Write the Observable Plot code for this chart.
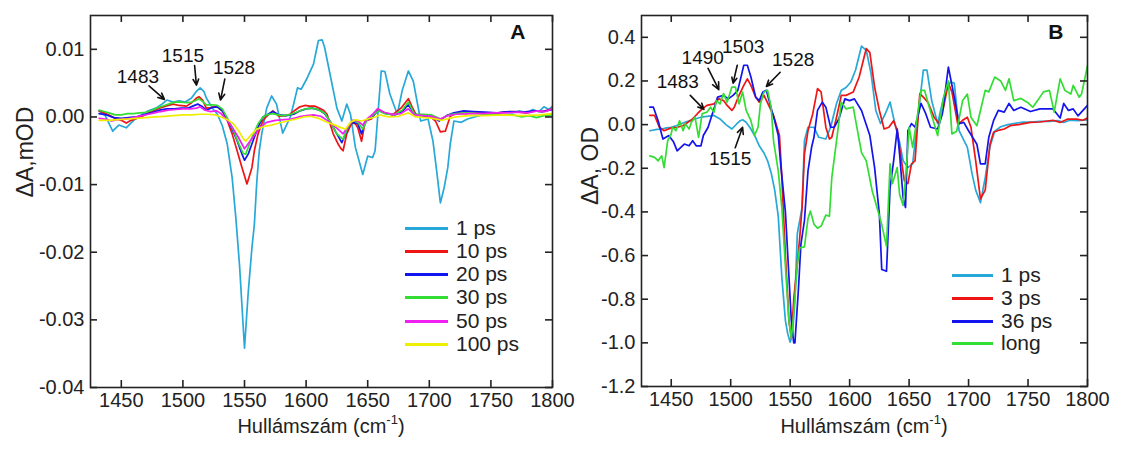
<!DOCTYPE html>
<html><head><meta charset="utf-8">
<script src="https://cdn.jsdelivr.net/npm/d3@7"></script>
<script src="https://cdn.jsdelivr.net/npm/@observablehq/plot@0.6"></script>
<style>
body{margin:0;background:#fff;}
#wrap{position:relative;width:1132px;height:449px;font-family:"Liberation Sans",Arial,sans-serif;color:#222;overflow:hidden;}
.svgbox{position:absolute;top:0;}
.ylab{position:absolute;white-space:nowrap;font-size:23px;transform:translate(-50%,-50%) rotate(-90deg);}
.xlab{position:absolute;white-space:nowrap;font-size:20px;line-height:22px;transform:translate(-50%,0);}
.xlab sup{font-size:13px;vertical-align:9px;line-height:0;}
.leg{position:absolute;font-size:21px;line-height:24px;height:24px;white-space:nowrap;}
.leg span.sw{position:absolute;top:11px;height:2.5px;}
.leg span.tx{position:absolute;top:0;}
</style></head><body><div id="wrap"></div>
<script>
// ---------- tick labels ----------
const xTicks = [1450, 1500, 1550, 1600, 1650, 1700, 1750, 1800];
const yTicksA = [0.01, 0, -0.01, -0.02, -0.03, -0.04];
const yTicksB = [0.4, 0.2, 0, -0.2, -0.4, -0.6, -0.8, -1.0, -1.2];

// ---------- panel A series: [wavenumber, dA] ----------
const namesA = ["1 ps", "10 ps", "20 ps", "30 ps", "50 ps", "100 ps"];
const colorsA = ["#27a8d8", "#ee1515", "#1414ee", "#33dd33", "#f020f0", "#eeee00"];
const a1ps = [[1432,0.0009],[1437,0.0002],[1443,-0.0021],[1448,-0.0012],[1454,-0.0016],[1460,-0.0005],[1467,0.0004],[1472,0.0009],[1478,0.0013],[1483,0.0019],[1487,0.0025],[1492,0.0022],[1497,0.0024],[1502,0.0022],[1507,0.0028],[1511,0.0038],[1514,0.0043],[1517,0.0038],[1519,0.0028],[1524,0.0013],[1528,0.0004],[1532,-0.0013],[1536,-0.004],[1540,-0.009],[1543,-0.015],[1546,-0.022],[1550,-0.0342],[1553,-0.026],[1556,-0.0194],[1558,-0.0159],[1560,-0.0095],[1562,-0.005],[1564,-0.0025],[1568,0.0013],[1572,0.0031],[1576,0.0019],[1581,-0.0024],[1587,-0.0001],[1590,0.002],[1593,0.0043],[1596,0.0041],[1601,0.0058],[1606,0.0078],[1610,0.0113],[1613,0.0114],[1615,0.0103],[1620,0.0058],[1625,0.0013],[1629,-0.0006],[1633,0.0019],[1636,0.0004],[1640,-0.0045],[1646,-0.0085],[1650,-0.0058],[1654,-0.006],[1656,-0.005],[1661,0.0068],[1664,0.0067],[1668,0.0034],[1674,0.0004],[1678,0.0039],[1683,0.0068],[1687,0.0053],[1693,-0.0006],[1699,-0.0003],[1703,-0.0036],[1706,-0.008],[1709,-0.0127],[1712,-0.0105],[1715,-0.0075],[1717,-0.004],[1720,-0.0006],[1726,-0.0008],[1731,-0.0003],[1739,0.0001],[1745,0.0004],[1752,0.0005],[1760,0.0007],[1767,0.0006],[1773,0.0009],[1779,0.0006],[1784,0.0011],[1789,0.0008],[1793,0.0015],[1797,0.0011],[1800,0.0016]];
const a10ps = [[1432,0.0009],[1436,0.0006],[1440,0.0003],[1445,-0.0002],[1450,-0.0005],[1454,-0.0009],[1458,-0.0005],[1463,-0.0002],[1467,0.0001],[1472,0.0006],[1476,0.0009],[1481,0.0013],[1486,0.0016],[1492,0.0019],[1497,0.0017],[1503,0.0016],[1507,0.0021],[1511,0.0028],[1513,0.003],[1516,0.0025],[1519,0.0013],[1523,0.0014],[1527,0.0016],[1532,0.0009],[1536,-0.0005],[1540,-0.0025],[1544,-0.005],[1548,-0.0075],[1552,-0.0099],[1556,-0.0075],[1558,-0.005],[1561,-0.0025],[1565,-0.0005],[1568,0.0001],[1573,0.0009],[1578,0.0001],[1583,0.0002],[1587,0.0004],[1591,0.001],[1595,0.0015],[1599,0.0017],[1603,0.0016],[1607,0.0016],[1611,0.0013],[1614,0.001],[1617,0.0004],[1622,-0.0025],[1626,-0.004],[1628,-0.0046],[1630,-0.005],[1633,-0.0025],[1637,-0.0009],[1640,-0.001],[1642,-0.0016],[1645,-0.0036],[1648,-0.0006],[1653,-0.0003],[1658,0.0012],[1664,0.0006],[1670,0.0003],[1677,0.0013],[1683,0.0027],[1686,0.0015],[1689,0.0004],[1696,0.0001],[1701,0.0],[1705,-0.0006],[1709,-0.0022],[1713,-0.0021],[1717,0.0001],[1722,0.0006],[1730,0.0005],[1740,0.0006],[1750,0.0005],[1760,0.0007],[1770,0.0008],[1778,0.0006],[1785,0.0009],[1792,0.0008],[1800,0.0012]];
const a20ps = [[1432,0.0005],[1438,0.0003],[1444,-0.0001],[1450,-0.0002],[1456,-0.0001],[1462,0.0],[1468,0.0003],[1474,0.0006],[1481,0.001],[1487,0.0012],[1493,0.0012],[1499,0.0013],[1504,0.0013],[1508,0.0016],[1512,0.0019],[1516,0.0015],[1519,0.001],[1524,0.0014],[1528,0.0015],[1532,0.0009],[1536,-0.0003],[1540,-0.0018],[1544,-0.0035],[1548,-0.0055],[1550,-0.0064],[1553,-0.0055],[1556,-0.004],[1561,-0.0015],[1565,0.0],[1568,0.0003],[1573,0.0008],[1578,0.0003],[1584,0.0002],[1590,0.0004],[1595,0.0009],[1600,0.0012],[1605,0.0013],[1611,0.001],[1615,0.0005],[1620,-0.0008],[1624,-0.0022],[1629,-0.0038],[1632,-0.0025],[1635,-0.0012],[1638,-0.0008],[1642,-0.001],[1645,-0.0025],[1648,-0.0006],[1654,0.0001],[1659,0.001],[1665,0.0005],[1672,0.0003],[1678,0.0008],[1683,0.0018],[1688,0.0004],[1695,0.0002],[1702,0.0001],[1708,-0.0006],[1714,0.0002],[1720,0.0006],[1728,0.0009],[1736,0.0008],[1745,0.0007],[1755,0.0006],[1765,0.0008],[1775,0.0007],[1785,0.0009],[1792,0.0008],[1800,0.0011]];
const a30ps = [[1432,0.001],[1436,0.0008],[1440,0.0006],[1445,0.0003],[1450,0.0003],[1455,0.0005],[1460,0.0005],[1465,0.0006],[1470,0.0007],[1475,0.001],[1480,0.0014],[1485,0.0017],[1490,0.002],[1494,0.0022],[1498,0.0022],[1503,0.0021],[1507,0.0022],[1510,0.0024],[1513,0.0027],[1516,0.0023],[1519,0.0018],[1524,0.0018],[1528,0.0017],[1532,0.0012],[1537,-0.0005],[1541,-0.002],[1545,-0.0038],[1549,-0.0054],[1551,-0.0055],[1555,-0.0035],[1561,-0.001],[1565,0.0],[1568,0.0003],[1573,0.0005],[1580,0.0002],[1586,0.0003],[1592,0.0007],[1598,0.0011],[1603,0.0013],[1608,0.0012],[1615,0.0006],[1620,-0.0008],[1625,-0.0025],[1630,-0.0033],[1634,-0.0015],[1638,-0.0005],[1642,-0.0008],[1646,-0.0018],[1650,-0.0003],[1655,0.0004],[1659,0.0009],[1665,0.0004],[1672,0.0004],[1678,0.001],[1683,0.0022],[1688,0.0004],[1695,0.0004],[1702,0.0003],[1709,-0.0003],[1716,0.0003],[1722,0.0005],[1730,0.0006],[1740,0.0005],[1750,0.0004],[1760,0.0003],[1768,0.0003],[1775,0.0],[1781,0.0002],[1787,-0.0001],[1793,0.0002],[1800,0.0003]];
const a50ps = [[1432,-0.0002],[1437,-0.0003],[1442,-0.0006],[1447,-0.0004],[1452,-0.0003],[1457,-0.0002],[1462,0.0],[1467,0.0002],[1472,0.0004],[1477,0.0006],[1482,0.0008],[1488,0.001],[1494,0.0011],[1500,0.0012],[1506,0.0012],[1511,0.0013],[1514,0.0015],[1518,0.001],[1522,0.0008],[1527,0.0009],[1531,0.0005],[1536,-0.0005],[1540,-0.0015],[1545,-0.003],[1550,-0.0047],[1554,-0.0037],[1558,-0.0027],[1563,-0.0015],[1568,-0.0008],[1575,-0.0005],[1582,-0.0004],[1588,-0.0003],[1594,0.0],[1600,0.0002],[1606,0.0003],[1612,0.0001],[1617,-0.0005],[1622,-0.0012],[1627,-0.002],[1630,-0.0025],[1634,-0.0014],[1638,-0.0005],[1642,-0.0006],[1646,-0.0012],[1650,-0.0002],[1654,0.0004],[1658,0.0012],[1663,0.0007],[1670,0.0004],[1677,0.0005],[1683,0.0012],[1688,0.0003],[1695,0.0002],[1702,0.0001],[1709,-0.0003],[1715,0.0002],[1722,0.0004],[1732,0.0005],[1742,0.0005],[1752,0.0006],[1762,0.0006],[1772,0.0007],[1780,0.0006],[1788,0.0009],[1794,0.0008],[1800,0.0012]];
const a100ps = [[1432,-0.0005],[1440,-0.0005],[1447,-0.0004],[1455,-0.0003],[1462,-0.0002],[1470,-0.0001],[1478,0.0],[1485,0.0001],[1492,0.0002],[1500,0.0003],[1507,0.0003],[1514,0.0004],[1520,0.0004],[1526,0.0003],[1531,0.0],[1536,-0.0004],[1541,-0.001],[1545,-0.002],[1549,-0.0032],[1551,-0.0036],[1555,-0.0027],[1560,-0.0018],[1566,-0.0014],[1572,-0.0012],[1578,-0.0009],[1585,-0.0006],[1592,-0.0003],[1598,0.0],[1604,0.0001],[1610,-0.0002],[1616,-0.0007],[1622,-0.0011],[1627,-0.0015],[1632,-0.0018],[1636,-0.0008],[1640,-0.0004],[1645,-0.0006],[1650,-0.0003],[1656,0.0],[1660,0.0003],[1667,0.0],[1675,0.0001],[1683,0.0006],[1689,0.0],[1696,-0.0001],[1703,-0.0002],[1710,-0.0005],[1716,-0.0002],[1722,0.0],[1732,0.0002],[1745,0.0002],[1760,0.0003],[1775,0.0002],[1790,0.0003],[1800,0.0005]];

// ---------- panel B series ----------
const namesB = ["1 ps", "3 ps", "36 ps", "long"];
const colorsB = ["#27a8d8", "#ee1515", "#1414ee", "#33dd33"];
const b1ps = [[1432,-0.028],[1438,-0.022],[1442,-0.02],[1446,-0.015],[1450,-0.012],[1454,-0.005],[1458,0.003],[1462,0.012],[1466,0.018],[1470,0.026],[1475,0.034],[1480,0.038],[1486,0.042],[1491,0.026],[1496,0.0],[1501,-0.02],[1505,0.003],[1508,0.018],[1510,0.022],[1513,0.011],[1517,-0.02],[1521,-0.06],[1524,-0.097],[1528,-0.13],[1531,-0.166],[1534,-0.22],[1537,-0.3],[1540,-0.42],[1543,-0.7],[1546,-0.898],[1548,-0.96],[1550,-0.997],[1552,-0.96],[1554,-0.8],[1556,-0.5],[1558,-0.44],[1560,-0.38],[1562,-0.074],[1565,-0.012],[1570,-0.012],[1574,-0.058],[1580,-0.066],[1584,-0.012],[1589,0.097],[1593,0.157],[1597,0.17],[1601,0.195],[1605,0.25],[1610,0.36],[1614,0.34],[1618,0.235],[1622,0.065],[1626,0.005],[1630,0.05],[1634,0.103],[1638,0.005],[1642,-0.08],[1645,-0.166],[1649,-0.197],[1653,-0.18],[1657,0.018],[1662,0.25],[1665,0.25],[1669,0.11],[1674,0.005],[1678,0.1],[1682,0.18],[1685,0.195],[1688,0.19],[1692,-0.028],[1699,-0.104],[1703,-0.227],[1706,-0.3],[1710,-0.358],[1714,-0.243],[1718,-0.1],[1722,-0.03],[1727,-0.01],[1733,0.0],[1738,0.005],[1745,0.011],[1752,0.012],[1760,0.015],[1768,0.015],[1775,0.018],[1780,0.01],[1785,0.02],[1792,0.018],[1800,0.022]];
const b3ps = [[1432,0.042],[1436,0.042],[1440,-0.012],[1444,-0.028],[1450,-0.015],[1455,-0.012],[1460,-0.005],[1464,0.011],[1468,0.026],[1472,0.05],[1476,0.072],[1480,0.088],[1486,0.095],[1490,0.118],[1494,0.11],[1497,0.088],[1501,0.065],[1503,0.08],[1507,0.134],[1511,0.18],[1514,0.21],[1517,0.18],[1521,0.126],[1524,0.103],[1528,0.134],[1532,0.088],[1536,0.042],[1541,-0.05],[1543,-0.243],[1546,-0.6],[1549,-0.9],[1551,-0.98],[1553,-0.8],[1556,-0.64],[1558,-0.52],[1560,-0.38],[1562,-0.135],[1565,-0.028],[1569,0.05],[1573,0.165],[1576,0.15],[1580,-0.012],[1583,-0.066],[1585,-0.058],[1589,0.034],[1593,0.134],[1597,0.134],[1603,0.149],[1608,0.218],[1614,0.349],[1617,0.33],[1621,0.172],[1625,0.065],[1629,-0.02],[1633,-0.012],[1637,0.018],[1640,-0.028],[1642,-0.104],[1646,-0.258],[1649,-0.27],[1652,-0.18],[1655,-0.166],[1659,0.142],[1663,0.12],[1666,0.1],[1671,0.034],[1675,0.005],[1679,0.08],[1683,0.19],[1686,0.15],[1691,0.0],[1695,0.02],[1699,0.034],[1702,-0.012],[1706,-0.166],[1710,-0.34],[1714,-0.3],[1718,-0.09],[1721,-0.035],[1726,-0.025],[1730,-0.02],[1735,-0.005],[1742,0.0],[1752,0.01],[1760,0.012],[1771,0.02],[1777,0.01],[1783,0.025],[1791,0.025],[1796,0.02],[1800,0.03]];
const b36ps = [[1432,0.08],[1435,0.08],[1439,0.018],[1443,-0.066],[1448,-0.05],[1452,-0.08],[1455,-0.12],[1461,-0.089],[1465,-0.097],[1468,-0.074],[1471,-0.097],[1475,-0.097],[1477,-0.05],[1481,-0.012],[1485,0.057],[1489,0.126],[1494,0.134],[1498,0.118],[1502,0.134],[1506,0.157],[1511,0.272],[1514,0.272],[1517,0.218],[1521,0.126],[1524,0.11],[1527,0.149],[1530,0.157],[1533,0.095],[1537,0.018],[1540,-0.05],[1542,-0.18],[1546,-0.4],[1549,-0.7],[1551,-0.9],[1553,-1.0],[1554,-1.0],[1557,-0.75],[1559,-0.55],[1562,-0.44],[1565,-0.212],[1568,-0.104],[1570,-0.058],[1573,0.065],[1577,0.103],[1580,0.08],[1584,-0.012],[1587,-0.012],[1591,0.027],[1596,0.118],[1600,0.11],[1604,0.118],[1610,0.065],[1617,-0.05],[1621,-0.197],[1625,-0.41],[1627,-0.664],[1631,-0.672],[1634,-0.289],[1637,-0.166],[1640,-0.02],[1642,-0.135],[1645,-0.335],[1647,-0.38],[1649,-0.028],[1652,0.005],[1655,-0.012],[1660,0.097],[1664,0.05],[1668,-0.012],[1674,-0.02],[1678,0.05],[1683,0.264],[1688,0.126],[1692,0.004],[1696,0.01],[1700,-0.028],[1707,-0.09],[1710,-0.18],[1714,-0.18],[1717,-0.058],[1721,0.018],[1725,0.065],[1730,0.057],[1734,0.097],[1738,0.065],[1744,0.08],[1752,0.06],[1760,0.072],[1771,0.072],[1777,0.03],[1780,0.097],[1784,0.065],[1788,0.072],[1792,0.04],[1800,0.088]];
const bLong = [[1432,-0.143],[1436,-0.15],[1439,-0.166],[1442,-0.143],[1444,-0.197],[1447,-0.074],[1450,-0.043],[1451,-0.012],[1454,-0.028],[1457,0.018],[1460,-0.028],[1462,0.003],[1465,-0.02],[1467,0.011],[1470,0.034],[1473,-0.058],[1476,0.05],[1480,0.057],[1483,0.08],[1486,0.057],[1488,0.11],[1491,0.095],[1494,0.142],[1497,0.103],[1501,0.172],[1504,0.172],[1507,0.095],[1510,0.149],[1513,0.065],[1517,0.018],[1520,-0.05],[1523,-0.012],[1525,0.095],[1528,0.149],[1531,0.157],[1534,0.08],[1536,-0.074],[1540,-0.212],[1543,-0.38],[1546,-0.65],[1549,-0.9],[1551,-0.98],[1553,-0.868],[1556,-0.64],[1558,-0.565],[1562,-0.56],[1565,-0.43],[1567,-0.396],[1570,-0.456],[1573,-0.475],[1576,-0.465],[1580,-0.415],[1583,-0.42],[1585,-0.243],[1589,-0.074],[1593,0.103],[1597,0.072],[1603,0.08],[1610,-0.128],[1614,-0.166],[1619,-0.304],[1623,-0.38],[1627,-0.458],[1631,-0.558],[1634,-0.18],[1636,-0.27],[1640,-0.197],[1642,-0.32],[1645,-0.37],[1648,-0.18],[1650,-0.012],[1653,-0.104],[1656,0.005],[1660,0.157],[1663,0.157],[1667,0.08],[1671,0.005],[1674,-0.05],[1679,0.126],[1683,0.2],[1686,-0.043],[1690,-0.03],[1695,0.11],[1699,0.14],[1702,0.034],[1707,-0.005],[1710,0.065],[1714,0.157],[1717,0.15],[1722,0.218],[1727,0.2],[1731,0.157],[1734,0.21],[1738,0.11],[1744,0.12],[1750,0.1],[1754,0.08],[1758,0.11],[1763,0.15],[1768,0.157],[1772,0.057],[1777,0.21],[1781,0.157],[1786,0.14],[1788,0.18],[1793,0.126],[1795,0.14],[1800,0.27]];

// ---------- annotations (label position + arrow, data units) ----------
const notesA = [
  {label: "1483", tx: 1463.5, ty: 0.0059, x1: 1472.5, y1: 0.0046, x2: 1485, y2: 0.0026},
  {label: "1515", tx: 1500, ty: 0.0090, x1: 1509.5, y1: 0.0076, x2: 1511, y2: 0.0047},
  {label: "1528", tx: 1541.5, ty: 0.0073, x1: 1534, y1: 0.0056, x2: 1530.5, y2: 0.0025}
];
const notesB = [
  {label: "1483", tx: 1455.5, ty: 0.196, x1: 1466, y1: 0.134, x2: 1477.5, y2: 0.07},
  {label: "1490", tx: 1476.5, ty: 0.306, x1: 1481, y1: 0.258, x2: 1490, y2: 0.16},
  {label: "1503", tx: 1510.5, ty: 0.357, x1: 1505.5, y1: 0.272, x2: 1502, y2: 0.19},
  {label: "1528", tx: 1552.5, ty: 0.295, x1: 1541.6, y1: 0.24, x2: 1530, y2: 0.175},
  {label: "1515", tx: 1499.6, ty: -0.159, x1: 1503.8, y1: -0.106, x2: 1510, y2: -0.012}
];

const FONT = "Liberation Sans, Arial, sans-serif";
const INK = "#222";

function makePanel(cfg) {
  const ph = cfg.height - cfg.mt - cfg.mb;
  const pw = cfg.width - cfg.ml - cfg.mr;
  const marks = [];
  cfg.series.forEach((s, i) => {
    marks.push(Plot.line(s, {x: d => d[0], y: d => d[1], stroke: cfg.colors[i], strokeWidth: 1.7, clip: true}));
  });
  marks.push(Plot.frame({stroke: INK, strokeWidth: 1.6}));
  const tk = {stroke: INK, strokeWidth: 1.6};
  marks.push(Plot.tickX(xTicks, {x: d => d, insetTop: ph - 7, ...tk}));
  marks.push(Plot.tickX(xTicks, {x: d => d, insetBottom: ph - 7, ...tk}));
  marks.push(Plot.tickY(cfg.yTicks, {y: d => d, insetRight: pw - 7, ...tk}));
  marks.push(Plot.tickY(cfg.yTicks, {y: d => d, insetLeft: pw - 7, ...tk}));
  marks.push(Plot.axisX({ticks: xTicks, tickSize: 0, tickPadding: 5, tickFormat: d => String(d), label: null, fontSize: 20, fill: INK}));
  marks.push(Plot.axisY({ticks: cfg.yTicks, tickSize: 0, tickPadding: 6, tickFormat: cfg.fmt, label: null, fontSize: 20, fill: INK}));
  marks.push(Plot.arrow(cfg.notes, {x1: "x1", y1: "y1", x2: "x2", y2: "y2", stroke: "#111", strokeWidth: 1.6, headLength: 9, headAngle: 50}));
  marks.push(Plot.text(cfg.notes, {x: "tx", y: "ty", text: "label", fontSize: 19, fill: "#111", lineAnchor: "middle"}));
  marks.push(Plot.text([cfg.letter], {frameAnchor: "top-right", dx: cfg.letterDx, dy: 9, fontSize: 21, fontWeight: "bold", fill: "#111"}));
  return Plot.plot({
    width: cfg.width, height: cfg.height,
    marginLeft: cfg.ml, marginRight: cfg.mr, marginTop: cfg.mt, marginBottom: cfg.mb,
    x: {domain: [1425, 1800]},
    y: {domain: cfg.ydomain},
    style: {fontFamily: FONT, fontSize: "20px", color: INK, background: "transparent", overflow: "visible"},
    marks
  });
}

const wrap = document.getElementById("wrap");

const svgA = makePanel({
  width: 565, height: 449, ml: 90, mr: 13, mt: 15, mb: 62,
  series: [a1ps, a10ps, a20ps, a30ps, a50ps, a100ps], colors: colorsA,
  ydomain: [-0.04, 0.015], yTicks: yTicksA, fmt: d => d.toFixed(2),
  notes: notesA, letter: "A", letterDx: -27
});
const svgB = makePanel({
  width: 567, height: 449, ml: 76, mr: 45, mt: 15, mb: 63,
  series: [b1ps, b3ps, b36ps, bLong], colors: colorsB,
  ydomain: [-1.2, 0.5], yTicks: yTicksB, fmt: d => d.toFixed(1),
  notes: notesB, letter: "B", letterDx: -24
});

function place(node, left) {
  const box = document.createElement("div");
  box.className = "svgbox";
  box.style.left = left + "px";
  box.appendChild(node);
  wrap.appendChild(box);
}
place(svgA, 0);
place(svgB, 565);

function addDiv(cls, html, styles) {
  const d = document.createElement("div");
  d.className = cls;
  d.innerHTML = html;
  Object.assign(d.style, styles);
  wrap.appendChild(d);
  return d;
}
// axis titles
addDiv("xlab", "Hullámszám (cm<sup>-1</sup>)", {left: "321px", top: "415px"});
addDiv("xlab", "Hullámszám (cm<sup>-1</sup>)", {left: "864px", top: "415px"});
addDiv("ylab", "ΔA,mOD", {left: "25px", top: "152px"});
addDiv("ylab", "ΔA, OD", {left: "590px", top: "166px"});

// legends
function legend(names, colors, x0, lineW, textX, rows) {
  names.forEach((n, i) => {
    const d = addDiv("leg", "", {left: x0 + "px", top: (rows[i] - 12) + "px"});
    const sw = document.createElement("span");
    sw.className = "sw";
    sw.style.left = "0px"; sw.style.width = lineW + "px"; sw.style.background = colors[i];
    const tx = document.createElement("span");
    tx.className = "tx";
    tx.style.left = (textX - x0) + "px";
    tx.textContent = n;
    d.appendChild(sw); d.appendChild(tx);
  });
}
legend(namesA, colorsA, 405, 43, 456, [228, 251, 274, 297, 321, 344]);
legend(namesB, colorsB, 952, 41, 1001, [275, 298, 321, 343]);
</script></body></html>
